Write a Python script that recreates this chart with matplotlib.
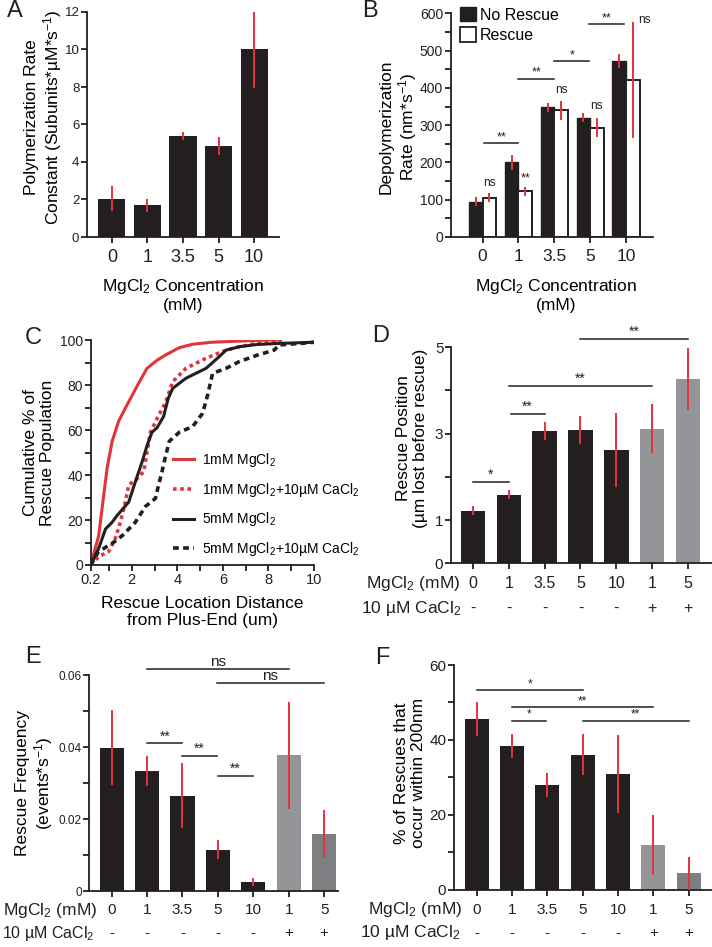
import numpy as np
import matplotlib
matplotlib.use('Agg')
import matplotlib.pyplot as plt
from matplotlib.patches import Patch
from matplotlib.transforms import ScaledTranslation

plt.rcParams['font.family'] = ['Liberation Sans', 'DejaVu Sans']
plt.rcParams['mathtext.default'] = 'regular'

# ---- data ----
mg_conc = ['0', '1', '3.5', '5', '10']

# A: polymerization rate constant
poly_rate = [2.05, 1.7, 5.38, 4.85, 10.05]
poly_err = [0.65, 0.35, 0.2, 0.5, 2.1]

# B: depolymerization rate
depol_norescue = [95, 200, 348, 320, 473]
depol_norescue_err = [12, 20, 12, 12, 19]
depol_rescue = [105, 123, 340, 293, 422]
depol_rescue_err = [12, 12, 25, 25, 156]

# C: cumulative rescue location
red_solid_x = [0.2, 0.55, 0.77, 0.92, 1.14, 1.43, 1.87, 2.3, 2.67, 3.11, 3.48, 4.09, 4.67, 5.5, 6.7, 8.0, 8.54]
red_solid_y = [0, 13, 31, 43, 55, 64, 72.6, 80.7, 87.4, 91, 93.3, 96.6, 98.1, 99, 99.5, 100, 100]
red_dot_x = [0.2, 0.55, 0.99, 1.29, 1.5, 1.72, 1.87, 2.2, 2.53, 2.67, 2.82, 3.11, 3.5, 3.8, 4.38, 5.26, 6.14, 6.72, 7.5, 8.54]
red_dot_y = [0, 3.7, 6, 12, 19, 28, 35.6, 38, 41.5, 50, 59, 65, 72.6, 81.5, 87.4, 91.9, 95.5, 97, 98.5, 99.5]
black_x = [0.2, 0.55, 0.85, 1.14, 1.36, 1.87, 2.16, 2.46, 2.67, 2.89, 3.11, 3.4, 3.6, 3.8, 4.38, 4.82, 5.26, 5.84, 6.14, 6.72, 7.5, 8.5, 10]
black_y = [0, 7.4, 16, 19, 22, 28, 37, 46, 53, 59, 61, 66, 74, 78.5, 83, 85.2, 87.4, 92.6, 95.5, 97, 98, 98.5, 99]
black_dash_x = [0.2, 0.55, 1.14, 1.58, 2.16, 2.6, 3.04, 3.18, 3.33, 3.43, 3.65, 4.09, 4.67, 5.11, 5.33, 5.55, 6.14, 6.72, 7.52, 8.25, 8.47, 9.42, 10]
black_dash_y = [0, 6, 9.6, 13, 19, 26, 29.6, 35.6, 41.5, 46, 55, 59, 61.5, 67.4, 75.5, 85.2, 87.4, 90.4, 93.3, 95.5, 97.8, 98.5, 99]

# D, E, F: seven conditions
mg_labels = ['0', '1', '3.5', '5', '10', '1', '5']
ca_labels = ['-', '-', '-', '-', '-', '+', '+']

rescue_pos = [1.22, 1.59, 3.06, 3.09, 2.62, 3.12, 4.27]
rescue_pos_err = [0.11, 0.11, 0.2, 0.33, 0.85, 0.57, 0.72]

rescue_freq = [0.0398, 0.0333, 0.0265, 0.0115, 0.0024, 0.0377, 0.0158]
rescue_freq_err = [0.0104, 0.0041, 0.009, 0.0026, 0.0011, 0.0148, 0.0066]

pct_200 = [45.5, 38.4, 27.9, 36.1, 30.9, 11.9, 4.4]
pct_200_err = [4.5, 3.3, 3.2, 5.4, 10.5, 8.1, 4.4]

# significance brackets: (x1, x2, y, label)
sig_B = [(0.05, 1.0, 251, '**'), (1.0, 2.0, 425, '**'), (2.0, 2.97, 472, '*'), (2.97, 3.93, 570, '**')]
sig_D = [(0, 1, 1.89, '*'), (1.05, 2, 3.46, '**'), (1, 5, 4.10, '**'), (3, 6, 5.19, '**')]
sig_E = [(1, 5, 0.0617, 'ns'), (2.97, 6, 0.0577, 'ns'), (1, 2, 0.041, '**'), (2, 2.97, 0.0376, '**'), (3, 4, 0.032, '**')]
sig_F = [(0, 3, 53.2, '*'), (1, 5, 48.7, '**'), (1, 1.95, 45.1, '*'), (3, 6, 45.1, '**')]

# ---- style ----
BLACK = '#231f20'
GREY = '#939598'
DGREY = '#7e7f82'
RED = '#e2333b'
W, H = 712, 947

fig = plt.figure(figsize=(W / 100, H / 100), dpi=100)


def px_axes(l, t, r, b):
    return fig.add_axes([l / W, 1 - b / H, (r - l) / W, (b - t) / H])


def ftext(x, y, s, **kw):
    return fig.text(x / W, 1 - y / H, s, **kw)


def style(ax, xsize=12, ysize=10, xpad=4):
    for s in ['top', 'right']:
        ax.spines[s].set_visible(False)
    for s in ['left', 'bottom']:
        ax.spines[s].set_linewidth(1.3)
        ax.spines[s].set_color(BLACK)
    ax.tick_params(which='both', width=1.3, length=4, color=BLACK, labelcolor=BLACK)
    ax.tick_params(axis='y', labelsize=ysize, pad=1.5)
    ax.tick_params(axis='x', labelsize=xsize, pad=xpad)


def brackets(ax, sigs, size=9):
    for x1, x2, y, lab in sigs:
        ax.plot([x1, x2], [y, y], color=BLACK, lw=1.1, clip_on=False)
        fs = size + 1 if lab == 'ns' else size
        ax.text((x1 + x2) / 2, y, lab, ha='center', va='bottom', fontsize=fs, color=BLACK, clip_on=False)


def category_rows(ax, first_dy, second_dy, mg_x, ca_x, size=11.5, title_size=12.5):
    x = np.arange(len(mg_labels))
    ax.set_xticks(x)
    ax.set_xticklabels([])
    tr1 = ax.get_xaxis_transform() + ScaledTranslation(0, -first_dy / 100, fig.dpi_scale_trans)
    tr2 = ax.get_xaxis_transform() + ScaledTranslation(0, -second_dy / 100, fig.dpi_scale_trans)
    for xi, lab in zip(x, mg_labels):
        ax.text(xi, 0, lab, transform=tr1, ha='center', va='center', fontsize=size, color=BLACK)
    for xi, lab in zip(x, ca_labels):
        ax.text(xi, 0, lab, transform=tr2, ha='center', va='center', fontsize=size, color=BLACK)
    ax.text(mg_x, 0, 'MgCl$_2$ (mM)', transform=tr1, ha='right', va='center', fontsize=12.5, color=BLACK)
    ax.text(ca_x, 0, '10 µM CaCl$_2$', transform=tr2, ha='right', va='center', fontsize=title_size, color=BLACK)


def err(ax, x, y, e):
    ax.errorbar(x, y, yerr=e, fmt='none', ecolor=RED, elinewidth=1.4, capsize=0, zorder=3)


# ---- A ----
axA = px_axes(87, 12, 279, 237)
xA = np.arange(len(mg_conc))
axA.bar(xA, poly_rate, width=0.76, color=BLACK)
err(axA, xA, poly_rate, poly_err)
axA.set_xlim(-0.7, 4.7)
axA.set_ylim(0, 12)
axA.set_yticks(range(0, 13, 2))
axA.set_xticks(xA)
axA.set_xticklabels(mg_conc)
style(axA, xsize=13, ysize=9.5, xpad=4.5)
ftext(183, 295, 'MgCl$_2$ Concentration\n(mM)', ha='center', va='center', fontsize=12.5, linespacing=1.15)
ftext(44, 117, 'Polymerization Rate\nConstant (Subunits*µM*s$^{-1}$)', ha='center', va='center',
      rotation=90, fontsize=12.5, linespacing=1.15)

# ---- B ----
axB = px_axes(450.7, 13.3, 653, 237)
xB = np.arange(len(mg_conc))
axB.bar(xB - 0.19, depol_norescue, width=0.38, color=BLACK, edgecolor=BLACK, lw=1.0)
axB.bar(xB + 0.19, depol_rescue, width=0.38, color='white', edgecolor=BLACK, lw=1.4)
err(axB, xB - 0.19, depol_norescue, depol_norescue_err)
err(axB, xB + 0.19, depol_rescue, depol_rescue_err)
axB.set_xlim(-0.89, 4.75)
axB.set_ylim(0, 600)
axB.set_yticks(range(0, 601, 100))
axB.set_yticks(range(50, 600, 100), minor=True)
axB.set_xticks(xB)
axB.set_xticklabels(mg_conc)
style(axB, xsize=12.5, ysize=10, xpad=4.5)
brackets(axB, sig_B, size=9)
for xx, yy, lab in [(0.2, 128, 'ns'), (1.21, 140, '**'), (2.2, 378, 'ns'), (3.18, 334, 'ns')]:
    axB.text(xx, yy, lab, ha='center', va='bottom', fontsize=9 if lab == '**' else 8.5, color=BLACK)
axB.text(4.33, 566, 'ns', ha='left', va='bottom', fontsize=8.5, color=BLACK)
axB.legend(handles=[Patch(facecolor=BLACK, edgecolor=BLACK, label='No Rescue'),
                    Patch(facecolor='white', edgecolor=BLACK, lw=1.3, label='Rescue')],
           loc='upper left', bbox_to_anchor=(0.046, 1.028), frameon=False, fontsize=11.5,
           handlelength=1.0, handleheight=1.0, handletextpad=0.25, labelspacing=0.3,
           borderaxespad=0, borderpad=0)
ftext(556, 295, 'MgCl$_2$ Concentration\n(mM)', ha='center', va='center', fontsize=12.5, linespacing=1.15)
ftext(399, 127, 'Depolymerization\nRate (nm*s$^{-1}$)', ha='center', va='center',
      rotation=90, fontsize=12.5, linespacing=1.15)

# ---- C ----
axC = px_axes(90.7, 340, 314, 565)
axC.plot(red_solid_x, red_solid_y, color=RED, lw=2.2, label='1mM MgCl$_2$')
axC.plot(red_dot_x, red_dot_y, color=RED, lw=2.6, ls=(0, (1, 1)), label='1mM MgCl$_2$+10µM CaCl$_2$')
axC.plot(black_x, black_y, color=BLACK, lw=2.2, label='5mM MgCl$_2$')
axC.plot(black_dash_x, black_dash_y, color=BLACK, lw=2.6, ls=(0, (1.6, 1.2)), label='5mM MgCl$_2$+10µM CaCl$_2$')
axC.set_xlim(0.2, 10)
axC.set_ylim(0, 100)
axC.set_xticks([0.2, 2, 4, 6, 8, 10])
axC.set_xticklabels(['0.2', '2', '4', '6', '8', '10'])
axC.set_xticks([1, 3, 5, 7, 9], minor=True)
axC.set_yticks(range(0, 101, 20))
axC.set_yticks(range(10, 100, 20), minor=True)
style(axC, xsize=10.5, ysize=10, xpad=2)
axC.legend(loc='lower left', bbox_to_anchor=(0.37, 0.03), frameon=False, fontsize=10,
           handlelength=1.5, handletextpad=0.6, labelspacing=0.85, borderaxespad=0, borderpad=0)
ftext(202, 612, 'Rescue Location Distance\nfrom Plus-End (um)', ha='center', va='center',
      fontsize=12.5, linespacing=1.15)
ftext(39, 453, 'Cumulative % of\nRescue Population', ha='center', va='center',
      rotation=90, fontsize=12.5, linespacing=1.15)

# ---- D ----
colors7 = [BLACK] * 5 + [GREY, GREY]
axD = px_axes(451, 347.3, 711, 563.3)
x7 = np.arange(len(mg_labels))
axD.bar(x7, rescue_pos, width=0.68, color=colors7)
err(axD, x7, rescue_pos, rescue_pos_err)
axD.set_xlim(-0.61, 6.64)
axD.set_ylim(0, 5)
axD.set_yticks([0, 1, 2, 3, 4, 5])
axD.set_yticklabels(['0', '1', '', '3', '', '5'])
style(axD, ysize=11)
category_rows(axD, 20, 45, -0.36, -0.32)
brackets(axD, sig_D, size=10)
ftext(412, 438, 'Rescue Position\n(µm lost before rescue)', ha='center', va='center',
      rotation=90, fontsize=12.5, linespacing=1.15)

# ---- E ----
colors7e = [BLACK] * 5 + [GREY, DGREY]
axE = px_axes(89.3, 675, 338, 891)
axE.bar(x7, rescue_freq, width=0.68, color=colors7e)
err(axE, x7, rescue_freq, rescue_freq_err)
axE.set_xlim(-0.63, 6.39)
axE.set_ylim(0, 0.06)
axE.set_yticks([0, 0.01, 0.02, 0.03, 0.04, 0.05, 0.06])
axE.set_yticklabels(['0', '', '0.02', '', '0.04', '', '0.06'])
style(axE, ysize=8.5)
category_rows(axE, 19, 42, -0.42, -0.48, size=11, title_size=11.5)
brackets(axE, sig_E, size=10)
ftext(35, 783, 'Rescue Frequency\n(events*s$^{-1}$)', ha='center', va='center',
      rotation=90, fontsize=12.5, linespacing=1.15)

# ---- F ----
axF = px_axes(454, 665, 711, 889.7)
axF.bar(x7, pct_200, width=0.68, color=colors7e)
err(axF, x7, pct_200, pct_200_err)
axF.set_xlim(-0.64, 6.63)
axF.set_ylim(0, 60)
axF.set_yticks(range(0, 61, 10))
axF.set_yticklabels(['0', '', '20', '', '40', '', '60'])
style(axF, ysize=11)
category_rows(axF, 20, 43, -0.42, -0.47, size=11)
brackets(axF, sig_F, size=8.5)
ftext(410, 773, '% of Rescues that\noccur within 200nm', ha='center', va='center',
      rotation=90, fontsize=12.5, linespacing=1.15)

# panel letters
for lab, x, y in [('A', 7, 11), ('B', 362, 11), ('C', 25, 338), ('D', 372, 336), ('E', 25, 657), ('F', 375, 658)]:
    ftext(x, y, lab, ha='left', va='center', fontsize=17, color=BLACK)

fig.savefig('out.png', dpi=100)
